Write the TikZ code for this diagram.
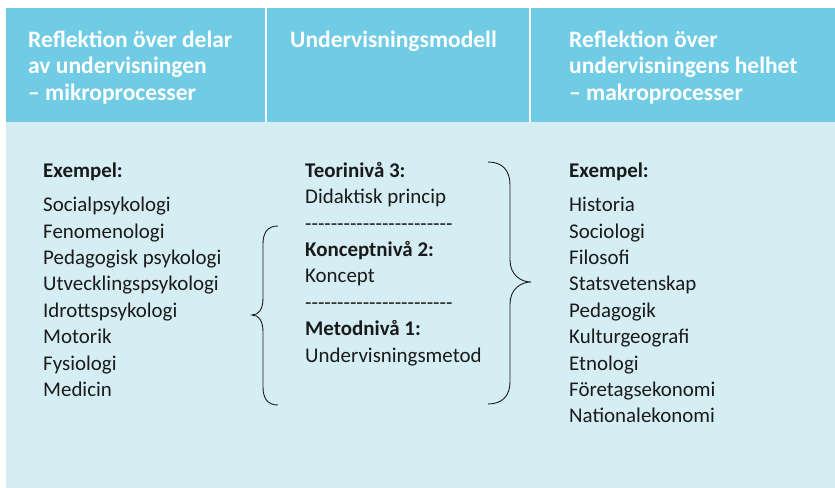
\documentclass[tikz,border=0pt]{standalone}
\usepackage{fontspec}
\setmainfont{Carlito}
\definecolor{headcol}{HTML}{6FCCE4}
\definecolor{bodycol}{HTML}{D5EEF4}
\definecolor{txt}{HTML}{1A1A1A}
\tikzset{
  headtext/.style={anchor=base west, inner sep=0pt, text=white, font=\fontsize{23.6}{26}\selectfont\bfseries},
  bodytext/.style={anchor=base west, inner sep=0pt, text=txt, font=\fontsize{21}{26}\selectfont},
  boldtext/.style={bodytext, font=\fontsize{21}{26}\selectfont\bfseries},
  bracestyle/.style={draw=txt, line width=0.9pt},
  sepline/.style={draw=white, line width=1.6pt}
}
\newcommand{\hyphenrow}{-{}-{}-{}-{}-{}-{}-{}-{}-{}-{}-{}-{}-{}-{}-{}-{}-{}-{}-{}-{}-{}-{}-}
\begin{document}
\begin{tikzpicture}[x=1bp,y=-1bp]
\useasboundingbox (0,0) rectangle (835,488);
\fill[white] (0,0) rectangle (835,488);
\fill[headcol] (6,8) rectangle (835,122);
\fill[bodycol] (6,122) rectangle (835,488);
\coordinate (s1t) at (266,8); \coordinate (s1b) at (266,122);
\coordinate (s2t) at (530,8); \coordinate (s2b) at (530,122);
\draw[sepline] (s1t) -- (s1b);
\draw[sepline] (s2t) -- (s2b);
% headers
\node[headtext] (h1a) at (28,47.7) {Reflektion över delar};
\node[headtext] (h1b) at (28,74) {av undervisningen};
\node[headtext] (h1c) at (28,100.3) {– mikroprocesser};
\node[headtext] (h2a) at (290,47.7) {Undervisningsmodell};
\node[headtext] (h3a) at (569,47.7) {Reflektion över};
\node[headtext] (h3b) at (569,74) {undervisningens helhet};
\node[headtext] (h3c) at (569,100.3) {– makroprocesser};
% left column
\node[boldtext] (lex) at (43,177.3) {Exempel:};
\foreach \t [count=\i from 0] in {Socialpsykologi,Fenomenologi,Pedagogisk psykologi,Utvecklingspsykologi,Idrottspsykologi,Motorik,Fysiologi,Medicin}
  \node[bodytext] (l\i) at (43,211.7+26.4*\i) {\t};
% right column
\node[boldtext] (rex) at (569,177.3) {Exempel:};
\foreach \t [count=\i from 0] in {Historia,Sociologi,Filosofi,Statsvetenskap,Pedagogik,Kulturgeografi,Etnologi,Företagsekonomi,Nationalekonomi}
  \node[bodytext] (r\i) at (569,211.7+26.4*\i) {\t};
% middle column
\node[boldtext] (m0) at (305,177.3) {Teorinivå 3:};
\node[bodytext] (m1) at (305,203.7) {Didaktisk princip};
\node[bodytext] (m2) at (305,230.1) {\hyphenrow};
\node[boldtext] (m3) at (305,256.5) {Konceptnivå 2:};
\node[bodytext] (m4) at (305,282.9) {Koncept};
\node[bodytext] (m5) at (305,309.3) {\hyphenrow};
\node[boldtext] (m6) at (305,335.7) {Metodnivå 1:};
\node[bodytext] (m7) at (305,362.1) {Undervisningsmetod};
% left brace
\coordinate (lbt) at (278,226);
\coordinate (lbtip) at (252,315);
\coordinate (lbb) at (278,405);
\draw[bracestyle] (lbt) .. controls (268,226) and (263,232) .. (263,244)
  -- (263,298) .. controls (263,309) and (259,315) .. (lbtip)
  .. controls (259,315) and (263,321) .. (263,332)
  -- (263,387) .. controls (263,399) and (268,405) .. (lbb);
% right brace
\coordinate (rbt) at (488,162);
\coordinate (rbtip) at (531,282);
\coordinate (rbb) at (488,404);
\draw[bracestyle] (rbt) .. controls (502,162) and (510,170) .. (510,185)
  -- (510,260) .. controls (510,274) and (520,282) .. (rbtip)
  .. controls (520,282) and (510,290) .. (510,304)
  -- (510,382) .. controls (510,396) and (502,404) .. (rbb);
\end{tikzpicture}
\end{document}
